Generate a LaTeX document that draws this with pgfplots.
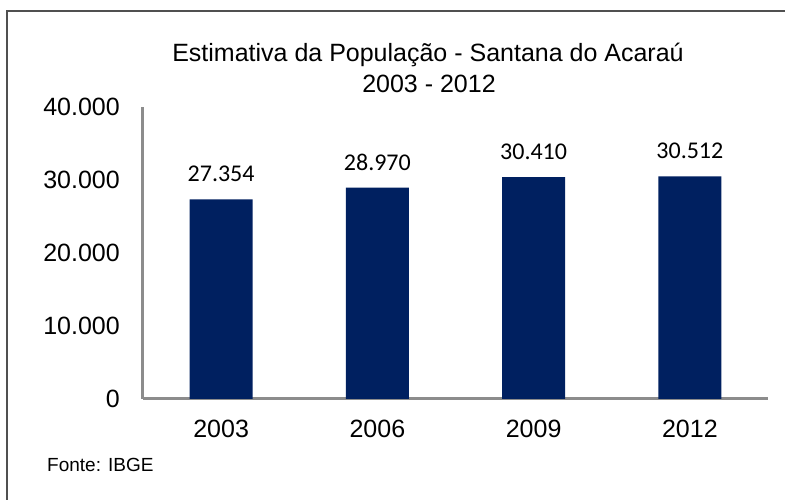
\documentclass[border=0pt]{standalone}
\usepackage{pgfplots}
\pgfplotsset{compat=1.18}
\usepackage{pgfplotstable}
\usepackage{fontspec}
\setmainfont{Liberation Sans}
\newfontfamily\carlito{Carlito}
\definecolor{barnavy}{RGB}{0,32,96}
\definecolor{axgray}{RGB}{140,140,140}
\definecolor{framegray}{RGB}{80,80,80}
\pgfplotstableread{
x y lab
0 27354 27.354
1 28970 28.970
2 30410 30.410
3 30512 30.512
}\popdata

\begin{document}
\begin{tikzpicture}[x=1pt,y=1pt]
\useasboundingbox (0,0) rectangle (785,500);
\fill[white] (0,0) rectangle (785,500);
\draw[framegray, line width=1.2pt] (7,0) -- (7,489) -- (785,489);
\node[font=\fontsize{25}{30}\selectfont, anchor=base] at (428,438) {Estimativa da População - Santana do Acaraú};
\node[font=\fontsize{25}{30}\selectfont, anchor=base] at (429,407) {2003 - 2012};
\node[font=\fontsize{19}{22}\selectfont, anchor=base west, inner sep=0pt] at (47,28) {Fonte: IBGE};
\begin{axis}[
  at={(143pt,101pt)}, anchor=south west,
  scale only axis, width=625pt, height=292pt,
  xmin=-0.5, xmax=3.5, ymin=0, ymax=40000,
  axis x line=bottom, axis y line=left,
  axis line style={axgray, line width=3pt, -},
  xtick={0,1,2,3}, xticklabels={2003,2006,2009,2012},
  ytick={0,10000,20000,30000,40000},
  yticklabels={0,10.000,20.000,30.000,40.000},
  scaled y ticks=false,
  major tick length=0pt, tick style={draw=none},
  ticklabel style={font=\fontsize{25}{30}\selectfont},
  yticklabel style={inner sep=0pt, xshift=-23pt},
  xticklabel style={inner sep=0pt, yshift=-21pt},
  clip=false,
  ybar, bar width=63pt,
]
\addplot[fill=barnavy, draw=none,
  nodes near coords, point meta=explicit symbolic,
  nodes near coords style={font=\carlito\fontsize{24}{28}\selectfont, text=black, inner sep=0pt, yshift=17pt}]
  table[x=x, y=y, meta=lab] {\popdata};
\end{axis}
\end{tikzpicture}
\end{document}
